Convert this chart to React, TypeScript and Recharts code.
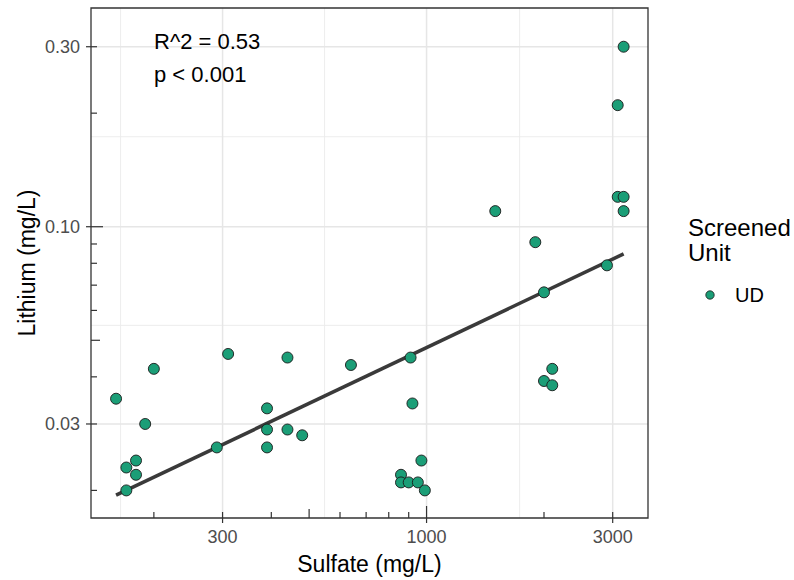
import { CartesianGrid, ReferenceArea, Scatter, ScatterChart, XAxis, YAxis } from "recharts";

// sulfate (mg/L) vs lithium (mg/L), one entry per sample, screened unit UD
const sulfate = [
  160, 200, 190, 170, 180, 180, 170, 310, 290, 390, 390, 390, 440, 440, 480, 640, 910, 920,
  970, 860, 860, 900, 950, 990, 1500, 1900, 2000, 2100, 2000, 2100, 2900, 3090, 3200, 3090,
  3200, 3200,
];
const lithium = [
  0.035, 0.042, 0.03, 0.023, 0.024, 0.022, 0.02, 0.046, 0.026, 0.033, 0.029, 0.026, 0.045,
  0.029, 0.028, 0.043, 0.045, 0.034, 0.024, 0.022, 0.021, 0.021, 0.021, 0.02, 0.11, 0.091,
  0.067, 0.042, 0.039, 0.038, 0.079, 0.21, 0.3, 0.12, 0.12, 0.11,
];

// linear fit in log-log space, end points
const fitSulfate = [160, 3200];
const fitLithium = [0.01943, 0.0847];

const xDomain = [138, 3695];
const yDomain = [0.0169, 0.38];

const xLogTicks = [200, 300, 400, 500, 600, 700, 800, 900, 1000, 2000, 3000];
const xLabelled = [300, 1000, 3000];
const xMinorGrid = [164.3, 547.7, 1732];

const yLogTicks = [0.02, 0.03, 0.04, 0.05, 0.06, 0.07, 0.08, 0.09, 0.1, 0.2, 0.3];
const yLabelled = [0.03, 0.1, 0.3];
const yMinorGrid = [0.05477, 0.1732];

const W = 794;
const H = 580;
const PLOT_LEFT = 91;
const PLOT_BOTTOM = 518;
const FONT = '"Liberation Sans", Arial, sans-serif';
const GREEN = "#1B9E77";
const INK = "#333333";

/** longueur du tick log : 1 long, 5 moyen, le reste court */
function logTickLength(v: number): number {
  const m = Math.round(v / Math.pow(10, Math.floor(Math.log10(v) + 1e-9)));
  if (m === 1) return 12;
  if (m === 5) return 9;
  return 6;
}

function XTick(props: any) {
  const { x, payload } = props;
  const v = payload.value as number;
  const labelled = xLabelled.includes(v);
  return (
    <g>
      <line x1={x} x2={x} y1={PLOT_BOTTOM} y2={PLOT_BOTTOM - logTickLength(v)} stroke={INK} strokeWidth={1.2} />
      {labelled && (
        <>
          <line x1={x} x2={x} y1={PLOT_BOTTOM} y2={PLOT_BOTTOM + 5} stroke={INK} strokeWidth={1.2} />
          <text x={x} y={543} textAnchor="middle" fontSize={18} fontFamily={FONT} fill="#4d4d4d">
            {v}
          </text>
        </>
      )}
    </g>
  );
}

function YTick(props: any) {
  const { y, payload } = props;
  const v = payload.value as number;
  const labelled = yLabelled.some((t) => Math.abs(t - v) < 1e-9);
  return (
    <g>
      <line x1={PLOT_LEFT} x2={PLOT_LEFT + logTickLength(v)} y1={y} y2={y} stroke={INK} strokeWidth={1.2} />
      {labelled && (
        <>
          <line x1={PLOT_LEFT - 5} x2={PLOT_LEFT} y1={y} y2={y} stroke={INK} strokeWidth={1.2} />
          <text x={80} y={y} dy="0.36em" textAnchor="end" fontSize={18} fontFamily={FONT} fill="#4d4d4d">
            {v.toFixed(2)}
          </text>
        </>
      )}
    </g>
  );
}

function Dot(props: any) {
  const { cx, cy } = props;
  return <circle cx={cx} cy={cy} r={5.5} fill={GREEN} stroke="#1a1a1a" strokeWidth={0.9} />;
}

export default function App() {
  const points = sulfate.map((x, i) => ({ x, y: lithium[i] }));
  const fit = fitSulfate.map((x, i) => ({ x, y: fitLithium[i] }));

  return (
    <div style={{ position: "absolute", left: 0, top: 0, width: W, height: H, background: "#fff" }}>
      <ScatterChart width={W} height={H} margin={{ top: 8, right: 146, bottom: 0, left: 0 }}>
        <CartesianGrid
          stroke="#ebebeb"
          strokeWidth={0.9}
          horizontalValues={yMinorGrid}
          verticalValues={xMinorGrid}
        />
        <CartesianGrid
          stroke="#e6e6e6"
          strokeWidth={1.5}
          horizontalValues={yLabelled}
          verticalValues={xLabelled}
        />
        <XAxis
          type="number"
          dataKey="x"
          scale="log"
          domain={xDomain}
          allowDataOverflow
          ticks={xLogTicks}
          interval={0}
          tick={<XTick />}
          tickLine={false}
          axisLine={false}
          height={62}
        />
        <YAxis
          type="number"
          dataKey="y"
          scale="log"
          domain={yDomain}
          allowDataOverflow
          ticks={yLogTicks}
          interval={0}
          tick={<YTick />}
          tickLine={false}
          axisLine={false}
          width={91}
        />
        <Scatter
          data={fit}
          line={{ stroke: "#3a3a3a", strokeWidth: 3.6 }}
          shape={() => <g />}
          isAnimationActive={false}
          legendType="none"
        />
        <Scatter data={points} name="UD" shape={<Dot />} isAnimationActive={false} />
        <ReferenceArea
          x1={xDomain[0]}
          x2={xDomain[1]}
          y1={yDomain[0]}
          y2={yDomain[1]}
          fill="none"
          stroke={INK}
          strokeWidth={1.3}
        />
      </ScatterChart>
      <svg
        width={W}
        height={H}
        style={{ position: "absolute", left: 0, top: 0, pointerEvents: "none" }}
        fontFamily={FONT}
      >
        <text x={154} y={48.5} fontSize={22} fill="#000">R^2 = 0.53</text>
        <text x={154} y={81.5} fontSize={22} fill="#000">p &lt; 0.001</text>
        <text x={369.5} y={572} textAnchor="middle" fontSize={23} fill="#000">Sulfate (mg/L)</text>
        <text x={35} y={263} transform="rotate(-90 35 263)" textAnchor="middle" fontSize={23} fill="#000">
          Lithium (mg/L)
        </text>
        <text x={688} y={236} fontSize={24} fill="#000">Screened</text>
        <text x={688} y={261} fontSize={24} fill="#000">Unit</text>
        <circle cx={710} cy={295} r={4.2} fill={GREEN} stroke="#1a1a1a" strokeWidth={0.8} />
        <text x={735} y={302} fontSize={20} fill="#000">UD</text>
      </svg>
    </div>
  );
}
